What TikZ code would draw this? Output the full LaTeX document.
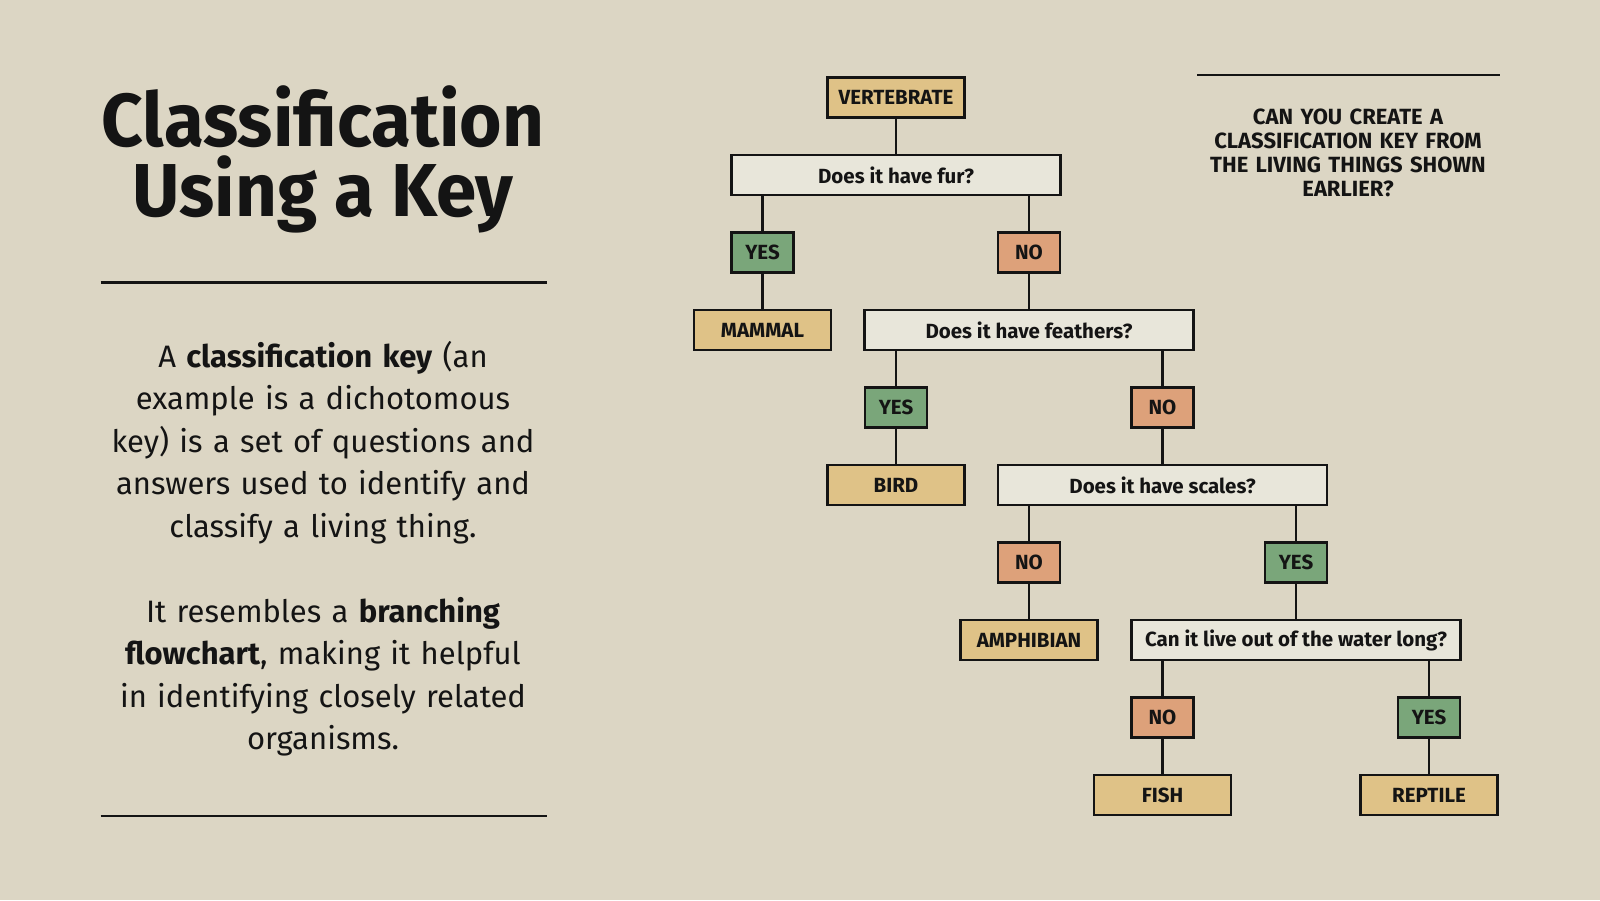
\documentclass[tikz,border=0pt]{standalone}
\usepackage{fontspec}
\setmainfont{Fira Sans}
\usepackage{graphicx}
\definecolor{bg}{HTML}{DCD6C4}
\definecolor{tan}{HTML}{DFC287}
\definecolor{cream}{HTML}{E8E6DA}
\definecolor{yesgreen}{HTML}{7AA67A}
\definecolor{nosalmon}{HTML}{DDA17A}
\definecolor{ink}{HTML}{141414}
\begin{document}
\begin{tikzpicture}[x=1pt,y=-1pt,
  box/.style={draw=ink, line width=2.8pt, minimum height=40pt, inner sep=0pt,
    font=\fontsize{20.5}{22}\selectfont\bfseries, text=ink},
  term/.style={box, fill=tan, minimum width=137pt},
  ques/.style={box, fill=cream, minimum width=329pt},
  yesbox/.style={box, fill=yesgreen, minimum width=62pt},
  nobox/.style={box, fill=nosalmon, minimum width=62pt},
  link/.style={draw=ink, line width=2.8pt},
  rule/.style={draw=ink, line width=2.6pt}]
\fill[bg] (0,0) rectangle (1600,900);
\useasboundingbox (0,0) rectangle (1600,900);

% left panel
\node[anchor=base, text=ink, inner sep=0pt, font=\fontsize{75}{75}\selectfont\bfseries] (title1) at (323,146.7) {\scalebox{0.97}[1]{Classification}};
\node[anchor=base, text=ink, inner sep=0pt, font=\fontsize{75}{75}\selectfont\bfseries] (title2) at (323,216.7) {\scalebox{0.97}[1]{Using a Key}};
\coordinate (r1a) at (100.7,282.7);
\coordinate (r1b) at (546.7,282.7);
\draw[rule] (r1a) -- (r1b);
\node[anchor=base, text=ink, inner sep=0pt, text width=470pt, align=center,
  font=\fontsize{31}{42.5}\selectfont] (body) at (323,367)
  {A \textbf{classification key} (an\\ example is a dichotomous\\ key) is a set of questions and\\ answers used to identify and\\ classify a living thing.\\[42.5pt] It resembles a \textbf{branching}\\ \textbf{flowchart}, making it helpful\\ in identifying closely related\\ organisms.};
\coordinate (r2a) at (100.7,816);
\coordinate (r2b) at (546.7,816);
\draw[rule] (r2a) -- (r2b);

% right note
\coordinate (r3a) at (1197,75);
\coordinate (r3b) at (1500,75);
\draw[rule] (r3a) -- (r3b);
\node[anchor=base, text=ink, inner sep=0pt, text width=320pt, align=center,
  font=\fontsize{22}{24}\selectfont\bfseries] (note) at (1348,124)
  {CAN YOU CREATE A\\ CLASSIFICATION KEY FROM\\ THE LIVING THINGS SHOWN\\ EARLIER?};

% tree
\node[term]   (vert)    at (896,97.5)   {VERTEBRATE};
\node[ques]   (fur)     at (896,175)    {Does it have fur?};
\node[yesbox] (furyes)  at (762.5,252.5) {YES};
\node[nobox]  (furno)   at (1029,252.5) {NO};
\node[term]   (mammal)  at (762.5,330)  {MAMMAL};
\node[ques]   (feath)   at (1029,330)   {Does it have feathers?};
\node[yesbox] (fyes)    at (896,407.5)  {YES};
\node[nobox]  (fno)     at (1162.5,407.5) {NO};
\node[term]   (bird)    at (896,485)    {BIRD};
\node[ques]   (scales)  at (1162.5,485) {Does it have scales?};
\node[nobox]  (sno)     at (1029,562.5) {NO};
\node[yesbox] (syes)    at (1296,562.5) {YES};
\node[term]   (amph)    at (1029,640)   {AMPHIBIAN};
\node[ques]   (water)   at (1296,640)   {Can it live out of the water long?};
\node[nobox]  (wno)     at (1162.5,717.5) {NO};
\node[yesbox] (wyes)    at (1429,717.5) {YES};
\node[term]   (fish)    at (1162.5,795) {FISH};
\node[term]   (reptile) at (1429,795)   {REPTILE};

\draw[link] (vert) -- (fur);
\draw[link] (furyes.north) -- (furyes.north |- fur.south);
\draw[link] (furno.north) -- (furno.north |- fur.south);
\draw[link] (furyes) -- (mammal);
\draw[link] (furno) -- (feath);
\draw[link] (fyes.north) -- (fyes.north |- feath.south);
\draw[link] (fno.north) -- (fno.north |- feath.south);
\draw[link] (fyes) -- (bird);
\draw[link] (fno) -- (scales);
\draw[link] (sno.north) -- (sno.north |- scales.south);
\draw[link] (syes.north) -- (syes.north |- scales.south);
\draw[link] (sno) -- (amph);
\draw[link] (syes) -- (water);
\draw[link] (wno.north) -- (wno.north |- water.south);
\draw[link] (wyes.north) -- (wyes.north |- water.south);
\draw[link] (wno) -- (fish);
\draw[link] (wyes) -- (reptile);
\end{tikzpicture}
\end{document}
